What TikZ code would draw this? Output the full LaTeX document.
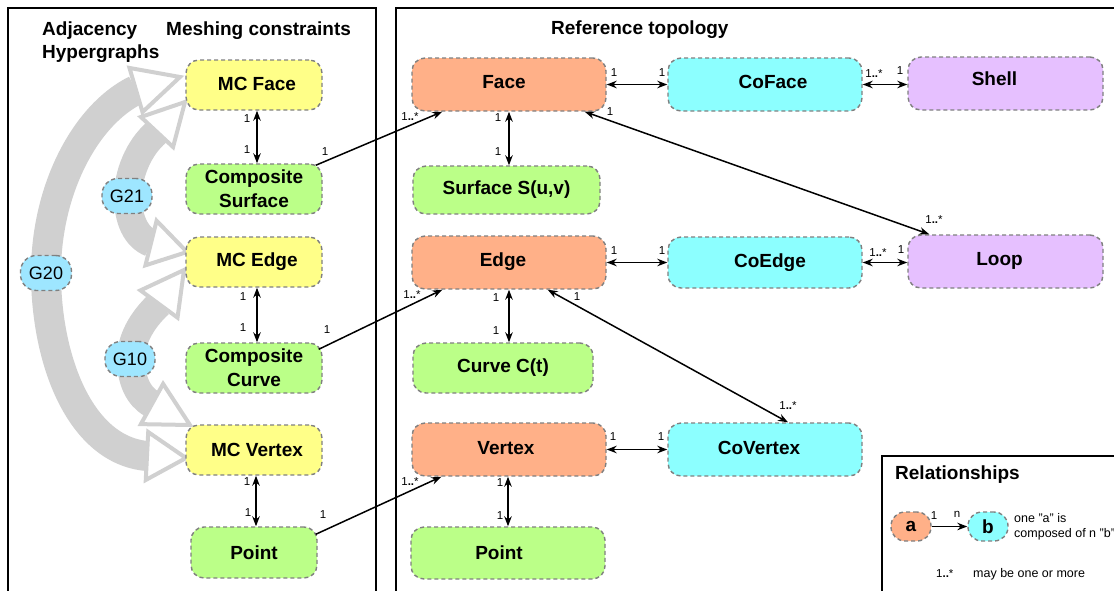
\documentclass[tikz,border=0pt]{standalone}
\usepackage{fontspec}
\setmainfont{Liberation Sans}
\usetikzlibrary{arrows.meta,calc}
\definecolor{mcyellow}{HTML}{FFFF88}
\definecolor{geogreen}{HTML}{BBFF88}
\definecolor{toposalmon}{HTML}{FFB088}
\definecolor{cocyan}{HTML}{8CFFFF}
\definecolor{shellpurple}{HTML}{E6C0FF}
\definecolor{gblue}{HTML}{9EE6FF}
\definecolor{bandgray}{HTML}{D0D0D0}
\definecolor{bordergray}{HTML}{808080}
\newcommand\opentri[3]{\draw[trishape] ($(#1)!#3!90:(#2)$) -- (#2) -- ($(#1)!#3!-90:(#2)$) -- cycle;}
\newcommand\shiftt[3]{\kern#1\raisebox{#2}[\height][\depth]{#3}\kern-#1}
\newcommand\mult{1{\bfseries..}*}
\tikzset{
  rbox/.style={draw=bordergray, line width=1.4pt, dash pattern=on 4pt off 3pt,
    rounded corners=13pt, inner sep=0pt, align=center,
    font=\fontsize{19}{24}\selectfont\bfseries},
  mcbox/.style={rbox, fill=mcyellow, minimum width=136pt, minimum height=50pt},
  geobox/.style={rbox, fill=geogreen},
  topobox/.style={rbox, fill=toposalmon, minimum width=194pt, minimum height=53pt},
  cobox/.style={rbox, fill=cocyan, minimum width=194pt, minimum height=53pt},
  purpbox/.style={rbox, fill=shellpurple, minimum width=195pt, minimum height=53pt},
  gbox/.style={draw=bordergray, line width=1.4pt, dash pattern=on 4pt off 3pt,
    rounded corners=16pt, fill=gblue, minimum width=50pt, minimum height=35pt,
    inner sep=0pt, font=\fontsize{18}{20}\selectfont},
  gband/.style={draw=bandgray, line cap=butt},
  trishape/.style={draw=bandgray, fill=white, line width=4pt, line join=miter},
  panelframe/.style={draw=black, line width=1.5pt},
  heading/.style={inner sep=0pt, font=\fontsize{19}{23}\selectfont\bfseries},
  lab/.style={inner sep=0pt, font=\fontsize{11.5}{12}\selectfont},
  legtext/.style={inner sep=0pt, font=\fontsize{12.5}{15}\selectfont},
  conn/.style={line width=1.5pt, black},
  dbl/.style={conn, <->},
  sgl/.style={conn, ->},
}
\begin{document}
\begin{tikzpicture}[x=1pt,y=-1pt,>={Stealth[length=10pt,width=7.5pt]}]
\useasboundingbox (0,0) rectangle (1114,590);
\clip (0,0) rectangle (1114,590);
\fill[white] (0,0) rectangle (1114,590);

% panels
\draw[panelframe] (8,8) rectangle (376,620);
\draw[panelframe] (396,8) rectangle (1130,620);
\draw[panelframe] (882,456) rectangle (1130,620);

% headings
\node[heading, anchor=base west] (tadj) at (42,35) {Adjacency};
\node[heading, anchor=base west] (thyp) at (42,58) {Hypergraphs};
\node[heading, anchor=base west] (tmesh) at (166,35) {Meshing constraints};
\node[heading, anchor=base west] (tref) at (551,34) {Reference topology};
\node[heading, anchor=base west] (trel) at (895,479) {Relationships};

% hypergraph arcs
\coordinate (g20s) at (147,456);
\coordinate (g20e) at (136,90);
\coordinate (g21s) at (157,132);
\coordinate (g21e) at (151,243);
\coordinate (g10s) at (159,304);
\coordinate (g10e) at (152,404);
\coordinate (t20s) at (186,458);
\coordinate (t20e) at (180,77);
\coordinate (t21s) at (185,102);
\coordinate (t21e) at (187,252);
\coordinate (t10s) at (184,270);
\coordinate (t10e) at (190,425);

\draw[gband, line width=30pt] (g20s) .. controls (80,450) and (46,360) .. (46,273)
  .. controls (46,190) and (85,115) .. (g20e);
\draw[gband, line width=28pt] (g21s) .. controls (138,148) and (128,175) .. (128,196)
  .. controls (128,220) and (136,237) .. (g21e);
\draw[gband, line width=28pt] (g10s) .. controls (141,321) and (131,340) .. (131,359)
  .. controls (131,380) and (138,396) .. (g10e);
\opentri{g20e}{t20e}{23pt}
\opentri{g20s}{t20s}{24pt}
\opentri{g21s}{t21s}{22pt}
\opentri{g21e}{t21e}{23pt}
\opentri{g10s}{t10s}{23pt}
\opentri{g10e}{t10e}{23pt}

\node[gbox] (g21) at (127,196) {G21};
\node[gbox, minimum width=51pt] (g20) at (46,273) {G20};
\node[gbox] (g10) at (130,359) {G10};

% meshing constraints column
\node[mcbox] (mcface) at (254,85) {\shiftt{3pt}{1pt}{MC Face}};
\node[geobox, minimum width=136pt, minimum height=50pt] (compsurf) at (254,189) {Composite\\Surface};
\node[mcbox] (mcedge) at (254,262) {\shiftt{3pt}{0pt}{MC Edge}};
\node[geobox, minimum width=136pt, minimum height=50pt] (compcurve) at (254,368) {Composite\\Curve};
\node[mcbox] (mcvertex) at (254,450) {\shiftt{3pt}{0pt}{MC Vertex}};
\node[geobox, minimum width=126pt, minimum height=51pt] (pointL) at (254,552.5) {Point};

% reference topology
\node[topobox] (face) at (509,84.5) {\shiftt{-5pt}{2pt}{Face}};
\node[geobox, minimum width=187pt, minimum height=48pt] (surf) at (506.5,190) {Surface S(u,v)};
\node[topobox] (edge) at (509,262.5) {\shiftt{-6pt}{1pt}{Edge}};
\node[geobox, minimum width=180pt, minimum height=50pt] (curve) at (503,368) {Curve C(t)};
\node[topobox] (vertex) at (509,449.5) {\shiftt{-3pt}{1pt}{Vertex}};
\node[geobox, minimum width=194pt, minimum height=52pt] (pointR) at (508,553) {\shiftt{-9pt}{0pt}{Point}};
\node[cobox] (coface) at (765,84.5) {\shiftt{8pt}{3pt}{CoFace}};
\node[purpbox] (shell) at (1005.5,83.5) {\shiftt{-11pt}{5pt}{Shell}};
\node[cobox, minimum height=51pt] (coedge) at (765,262.5) {\shiftt{5pt}{0pt}{CoEdge}};
\node[purpbox] (loop) at (1005.5,261.5) {\shiftt{-6pt}{1pt}{Loop}};
\node[cobox] (covertex) at (765,449.5) {\shiftt{-6pt}{2pt}{CoVertex}};

% connectors
\draw[dbl] ([xshift=3pt]mcface.south) -- ([xshift=3pt]compsurf.north);
\draw[dbl] ([xshift=3pt]mcedge.south) -- ([xshift=3pt]compcurve.north);
\draw[dbl] ([xshift=2pt]mcvertex.south) -- ([xshift=2pt]pointL.north);
\draw[dbl] (face.south) -- (face.south |- surf.north);
\draw[dbl] (edge.south) -- (edge.south |- curve.north);
\draw[dbl] ([xshift=-1pt]vertex.south) -- ([xshift=-1pt]vertex.south |- pointR.north);
\draw[dbl] (face.east) -- (coface.west);
\draw[dbl] (coface.east) -- (coface.east -| shell.west);
\draw[dbl] (edge.east) -- (coedge.west);
\draw[dbl] (coedge.east) -- (coedge.east -| loop.west);
\draw[dbl] (vertex.east) -- (covertex.west);
\draw[dbl] ([xshift=-22pt]face.south east) -- ([xshift=22pt]loop.north west);
\draw[dbl] ([xshift=-59pt]edge.south east) -- ([xshift=23pt]covertex.north);
\draw[sgl] ([shift={(-7,2)}]compsurf.north east) -- ([xshift=31pt]face.south west);
\draw[sgl] ([shift={(-4,7)}]compcurve.north east) -- ([xshift=31pt]edge.south west);
\draw[sgl] ([shift={(-2,8)}]pointL.north east) -- ([xshift=30pt]vertex.south west);

% multiplicity labels
\node[lab] (m1) at (247,119) {1};
\node[lab] (m2) at (247,150) {1};
\node[lab] (m3) at (243,297) {1};
\node[lab] (m4) at (243,328) {1};
\node[lab] (m5) at (247,482) {1};
\node[lab] (m6) at (248,513) {1};
\node[lab] (m7) at (498,118) {1};
\node[lab] (m8) at (498,152) {1};
\node[lab] (m9) at (496,298) {1};
\node[lab] (m10) at (496,331) {1};
\node[lab] (m11) at (500,483) {1};
\node[lab] (m12) at (500,516) {1};
\node[lab] (m13) at (614,73) {1};
\node[lab] (m14) at (662,73) {1};
\node[lab] (m15) at (874,74) {\mult};
\node[lab] (m16) at (900,71) {1};
\node[lab] (m17) at (614,251) {1};
\node[lab] (m18) at (662,251) {1};
\node[lab] (m19) at (878,253) {\mult};
\node[lab] (m20) at (901,250) {1};
\node[lab] (m21) at (613,437) {1};
\node[lab] (m22) at (661,437) {1};
\node[lab] (m23) at (610,112) {1};
\node[lab] (m24) at (934,220) {\mult};
\node[lab] (m25) at (577,297) {1};
\node[lab] (m26) at (788,406) {\mult};
\node[lab] (m27) at (325,152) {1};
\node[lab] (m28) at (410,117) {\mult};
\node[lab] (m29) at (327,330) {1};
\node[lab] (m30) at (412,295) {\mult};
\node[lab] (m31) at (323,515) {1};
\node[lab] (m32) at (410,482) {\mult};

% legend
\node[rbox, fill=toposalmon, minimum width=40pt, minimum height=29pt, rounded corners=14pt] (lega) at (911,526.5) {a};
\node[rbox, fill=cocyan, minimum width=40pt, minimum height=29pt, rounded corners=14pt] (legb) at (988,526.5) {b};
\draw[sgl] (lega.east) -- (legb.west);
\node[lab] (l1) at (934,516) {1};
\node[lab] (l2) at (957,514) {n};
\node[legtext, anchor=base west] (l3) at (1014,522) {one "a" is};
\node[legtext, anchor=base west] (l4) at (1014,537) {composed of n "b"};
\node[lab, anchor=base west] (l5) at (936,577) {\mult};
\node[legtext, anchor=base west] (l6) at (973,577) {may be one or more};
\end{tikzpicture}
\end{document}
